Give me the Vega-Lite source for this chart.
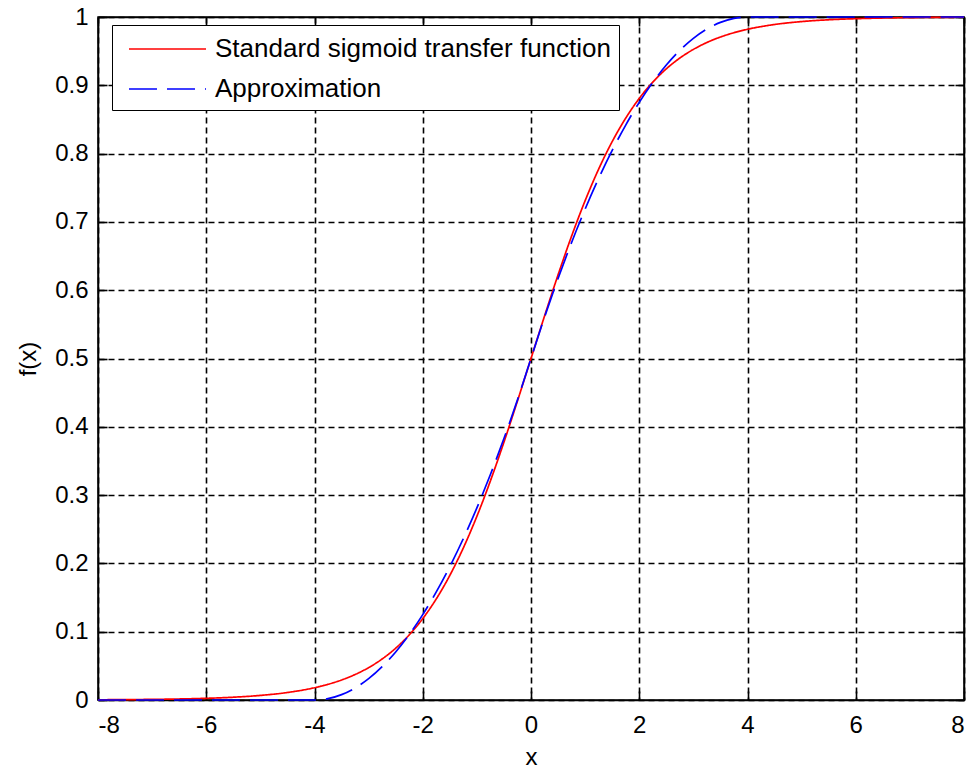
{
  "$schema": "https://vega.github.io/schema/vega-lite/v6.json",
  "autosize": {"type": "none"},
  "padding": {"left": 98, "top": 17, "right": 11, "bottom": 73},
  "width": 866,
  "height": 683,
  "background": "white",
  "config": {
    "font": "Liberation Sans",
    "view": {"stroke": "black", "strokeWidth": 1.5},
    "axis": {
      "labelFont": "Liberation Sans",
      "labelFontSize": 24,
      "labelColor": "black",
      "titleFont": "Liberation Sans",
      "titleFontSize": 24,
      "titleFontWeight": "normal",
      "titleColor": "black",
      "domainColor": "black",
      "domainWidth": 1.5,
      "ticks": true,
      "tickColor": "black",
      "tickWidth": 1.6,
      "tickSize": -9,
      "gridColor": "black",
      "gridDash": [6, 4],
      "gridWidth": 1.6,
      "gridOpacity": 1
    },
    "legend": {
      "labelFont": "Liberation Sans",
      "labelFontSize": 26,
      "labelColor": "black"
    }
  },
  "data": {
    "values": [
      {"x": -8, "y": 0.000335, "series": "Standard sigmoid transfer function"},
      {"x": -7.5, "y": 0.000553, "series": "Standard sigmoid transfer function"},
      {"x": -7, "y": 0.000911, "series": "Standard sigmoid transfer function"},
      {"x": -6.5, "y": 0.001501, "series": "Standard sigmoid transfer function"},
      {"x": -6, "y": 0.002473, "series": "Standard sigmoid transfer function"},
      {"x": -5.5, "y": 0.00407, "series": "Standard sigmoid transfer function"},
      {"x": -5, "y": 0.006693, "series": "Standard sigmoid transfer function"},
      {"x": -4.5, "y": 0.010987, "series": "Standard sigmoid transfer function"},
      {"x": -4, "y": 0.017986, "series": "Standard sigmoid transfer function"},
      {"x": -3.75, "y": 0.02298, "series": "Standard sigmoid transfer function"},
      {"x": -3.5, "y": 0.029312, "series": "Standard sigmoid transfer function"},
      {"x": -3.25, "y": 0.03732, "series": "Standard sigmoid transfer function"},
      {"x": -3, "y": 0.047426, "series": "Standard sigmoid transfer function"},
      {"x": -2.75, "y": 0.060087, "series": "Standard sigmoid transfer function"},
      {"x": -2.5, "y": 0.075858, "series": "Standard sigmoid transfer function"},
      {"x": -2.25, "y": 0.095349, "series": "Standard sigmoid transfer function"},
      {"x": -2, "y": 0.119203, "series": "Standard sigmoid transfer function"},
      {"x": -1.75, "y": 0.148047, "series": "Standard sigmoid transfer function"},
      {"x": -1.5, "y": 0.182426, "series": "Standard sigmoid transfer function"},
      {"x": -1.25, "y": 0.2227, "series": "Standard sigmoid transfer function"},
      {"x": -1, "y": 0.268941, "series": "Standard sigmoid transfer function"},
      {"x": -0.75, "y": 0.320821, "series": "Standard sigmoid transfer function"},
      {"x": -0.5, "y": 0.377541, "series": "Standard sigmoid transfer function"},
      {"x": -0.25, "y": 0.437823, "series": "Standard sigmoid transfer function"},
      {"x": 0, "y": 0.5, "series": "Standard sigmoid transfer function"},
      {"x": 0.25, "y": 0.562177, "series": "Standard sigmoid transfer function"},
      {"x": 0.5, "y": 0.622459, "series": "Standard sigmoid transfer function"},
      {"x": 0.75, "y": 0.679179, "series": "Standard sigmoid transfer function"},
      {"x": 1, "y": 0.731059, "series": "Standard sigmoid transfer function"},
      {"x": 1.25, "y": 0.7773, "series": "Standard sigmoid transfer function"},
      {"x": 1.5, "y": 0.817574, "series": "Standard sigmoid transfer function"},
      {"x": 1.75, "y": 0.851953, "series": "Standard sigmoid transfer function"},
      {"x": 2, "y": 0.880797, "series": "Standard sigmoid transfer function"},
      {"x": 2.25, "y": 0.904651, "series": "Standard sigmoid transfer function"},
      {"x": 2.5, "y": 0.924142, "series": "Standard sigmoid transfer function"},
      {"x": 2.75, "y": 0.939913, "series": "Standard sigmoid transfer function"},
      {"x": 3, "y": 0.952574, "series": "Standard sigmoid transfer function"},
      {"x": 3.25, "y": 0.96268, "series": "Standard sigmoid transfer function"},
      {"x": 3.5, "y": 0.970688, "series": "Standard sigmoid transfer function"},
      {"x": 3.75, "y": 0.97702, "series": "Standard sigmoid transfer function"},
      {"x": 4, "y": 0.982014, "series": "Standard sigmoid transfer function"},
      {"x": 4.5, "y": 0.989013, "series": "Standard sigmoid transfer function"},
      {"x": 5, "y": 0.993307, "series": "Standard sigmoid transfer function"},
      {"x": 5.5, "y": 0.99593, "series": "Standard sigmoid transfer function"},
      {"x": 6, "y": 0.997527, "series": "Standard sigmoid transfer function"},
      {"x": 6.5, "y": 0.998499, "series": "Standard sigmoid transfer function"},
      {"x": 7, "y": 0.999089, "series": "Standard sigmoid transfer function"},
      {"x": 7.5, "y": 0.999447, "series": "Standard sigmoid transfer function"},
      {"x": 8, "y": 0.999665, "series": "Standard sigmoid transfer function"},
      {"x": -8, "y": 0, "series": "Approximation"},
      {"x": -4, "y": 0, "series": "Approximation"},
      {"x": -3.75, "y": 0.001953, "series": "Approximation"},
      {"x": -3.5, "y": 0.007813, "series": "Approximation"},
      {"x": -3.25, "y": 0.017578, "series": "Approximation"},
      {"x": -3, "y": 0.03125, "series": "Approximation"},
      {"x": -2.75, "y": 0.048828, "series": "Approximation"},
      {"x": -2.5, "y": 0.070313, "series": "Approximation"},
      {"x": -2.25, "y": 0.095703, "series": "Approximation"},
      {"x": -2, "y": 0.125, "series": "Approximation"},
      {"x": -1.75, "y": 0.158203, "series": "Approximation"},
      {"x": -1.5, "y": 0.195313, "series": "Approximation"},
      {"x": -1.25, "y": 0.236328, "series": "Approximation"},
      {"x": -1, "y": 0.28125, "series": "Approximation"},
      {"x": -0.75, "y": 0.330078, "series": "Approximation"},
      {"x": -0.5, "y": 0.382813, "series": "Approximation"},
      {"x": -0.25, "y": 0.439453, "series": "Approximation"},
      {"x": 0, "y": 0.5, "series": "Approximation"},
      {"x": 0.25, "y": 0.560547, "series": "Approximation"},
      {"x": 0.5, "y": 0.617188, "series": "Approximation"},
      {"x": 0.75, "y": 0.669922, "series": "Approximation"},
      {"x": 1, "y": 0.71875, "series": "Approximation"},
      {"x": 1.25, "y": 0.763672, "series": "Approximation"},
      {"x": 1.5, "y": 0.804688, "series": "Approximation"},
      {"x": 1.75, "y": 0.841797, "series": "Approximation"},
      {"x": 2, "y": 0.875, "series": "Approximation"},
      {"x": 2.25, "y": 0.904297, "series": "Approximation"},
      {"x": 2.5, "y": 0.929688, "series": "Approximation"},
      {"x": 2.75, "y": 0.951172, "series": "Approximation"},
      {"x": 3, "y": 0.96875, "series": "Approximation"},
      {"x": 3.25, "y": 0.982422, "series": "Approximation"},
      {"x": 3.5, "y": 0.992188, "series": "Approximation"},
      {"x": 3.75, "y": 0.998047, "series": "Approximation"},
      {"x": 4, "y": 1, "series": "Approximation"},
      {"x": 8, "y": 1, "series": "Approximation"}
    ]
  },
  "layer": [
    {
      "mark": {"type": "line", "opacity": 0, "strokeWidth": 0.01},
      "encoding": {
        "x": {"field": "x", "type": "quantitative", "scale": {"domain": [-8, 8], "nice": false},
              "axis": {"orient": "top", "labels": false, "grid": false, "ticks": true, "title": null, "values": [-8, -6, -4, -2, 0, 2, 4, 6, 8]}},
        "y": {"field": "y", "type": "quantitative", "scale": {"domain": [0, 1], "nice": false, "zero": false},
              "axis": {"orient": "right", "labels": false, "grid": false, "ticks": true, "title": null, "values": [0, 0.1, 0.2, 0.3, 0.4, 0.5, 0.6, 0.7, 0.8, 0.9, 1]}},
        "detail": {"field": "series"}
      }
    },
    {
      "transform": [{"filter": "datum.series == 'Standard sigmoid transfer function'"}],
      "mark": {"type": "line", "strokeWidth": 1.7, "interpolate": "monotone"},
      "encoding": {
        "x": {"field": "x", "type": "quantitative",
              "axis": {"orient": "bottom", "title": "x", "grid": true, "ticks": true, "values": [-8, -6, -4, -2, 0, 2, 4, 6, 8], "labelExpr": "toString(datum.value)", "labelPadding": 22, "titlePadding": 8}},
        "y": {"field": "y", "type": "quantitative",
              "axis": {"orient": "left", "title": "f(x)", "grid": true, "ticks": true, "format": "~g", "values": [0, 0.1, 0.2, 0.3, 0.4, 0.5, 0.6, 0.7, 0.8, 0.9, 1], "labelPadding": 19, "titlePadding": 14}},
        "color": {"field": "series", "type": "nominal",
                  "scale": {"domain": ["Standard sigmoid transfer function", "Approximation"], "range": ["#ff0000", "#0000ff"]},
                  "legend": {"title": null, "orient": "none", "legendX": 14, "legendY": 8, "symbolType": "M-0.467,0H4.667", "symbolSize": 900, "symbolStrokeWidth": 1.7, "symbolFillColor": "transparent", "labelOffset": 63, "labelLimit": 600, "padding": 8, "rowPadding": 11, "strokeColor": "black", "fillColor": "white", "cornerRadius": 0}},
        "strokeDash": {"field": "series", "type": "nominal",
                  "scale": {"domain": ["Standard sigmoid transfer function", "Approximation"], "range": [[1, 0], [28, 10]]},
                  "legend": {"title": null, "orient": "none", "legendX": 14, "legendY": 8, "symbolType": "M-0.467,0H4.667", "symbolSize": 900, "symbolStrokeWidth": 1.7, "symbolFillColor": "transparent", "labelOffset": 63, "labelLimit": 600, "padding": 8, "rowPadding": 11, "strokeColor": "black", "fillColor": "white", "cornerRadius": 0}}
      }
    },
    {
      "transform": [{"filter": "datum.series == 'Approximation'"}],
      "mark": {"type": "line", "strokeWidth": 1.7, "interpolate": "monotone"},
      "encoding": {
        "x": {"field": "x", "type": "quantitative", "axis": null},
        "y": {"field": "y", "type": "quantitative", "axis": null},
        "color": {"field": "series", "type": "nominal"},
        "strokeDash": {"field": "series", "type": "nominal"}
      }
    }
  ],
  "resolve": {"axis": {"x": "independent", "y": "independent"}}
}
